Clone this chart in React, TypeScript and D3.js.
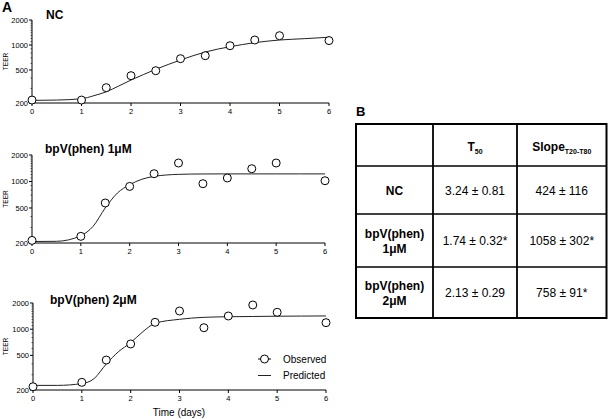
import React from "react";
import * as d3 from "d3";

const days = [0, 1, 1.5, 2, 2.5, 3, 3.5, 4, 4.5, 5, 6];
const obsNC = [217, 217, 306, 427, 490, 684, 743, 980, 1148, 1294, 1130];
const obs1uM = [214, 238, 570, 879, 1226, 1622, 944, 1096, 1397, 1622, 1020];
const obs2uM = [218, 245, 442, 676, 1200, 1618, 1040, 1418, 1897, 1564, 1188];

const predDays = [0, 0.5, 1, 1.25, 1.5, 1.75, 2, 2.25, 2.5, 3, 3.5, 4, 4.5, 5, 5.5, 6];
const predNC = [215, 217, 225, 245, 273, 320, 378, 440, 509, 659, 822, 953, 1066, 1148, 1191, 1240];
const pred1uM = [208, 209, 242, 309, 500, 740, 919, 1060, 1143, 1205, 1218, 1220, 1220, 1220, 1220, 1220];
const pred2uM = [226, 226, 237, 270, 398, 551, 700, 936, 1169, 1299, 1369, 1390, 1400, 1410, 1415, 1420];

const panelTitles = ["NC", "bpV(phen) 1μM", "bpV(phen) 2μM"];
const yTicks = [200, 500, 1000, 2000];
const xTicks = [0, 1, 2, 3, 4, 5, 6];
const minorTicks = [300, 400, 600, 700, 800, 900, 1100, 1200, 1300, 1400, 1500, 1600, 1700, 1800, 1900];

const tableHeader = ["", "T", "Slope"];
const tableHeaderSub = ["", "50", "T20-T80"];
const tableRowLabels = [["NC"], ["bpV(phen)", "1μM"], ["bpV(phen)", "2μM"]];
const tableT50 = ["3.24 ± 0.81", "1.74 ± 0.32*", "2.13 ± 0.29"];
const tableSlope = ["424 ± 116", "1058 ± 302*", "758 ± 91*"];

const FONT = "'Liberation Sans', Arial, Helvetica, sans-serif";

const layout = [
  { x0: 32, x1: 329, yTop: 20, yBot: 103, tx: 46, ty: 19 },
  { x0: 32, x1: 325, yTop: 155, yBot: 243, tx: 45, ty: 153 },
  { x0: 33, x1: 326, yTop: 303, yBot: 390, tx: 50, ty: 304 },
];

const observed = [obsNC, obs1uM, obs2uM];
const predicted = [predNC, pred1uM, pred2uM];

function Panel({ i }: { i: number }) {
  const L = layout[i];
  const x = d3.scaleLinear().domain([0, 6]).range([L.x0, L.x1]);
  const y = d3.scaleLog().domain([200, 2000]).range([L.yBot, L.yTop]);
  const line = d3
    .line<number>()
    .x((_, k) => x(predDays[k]))
    .y((v) => y(v))
    .curve(d3.curveMonotoneX);
  return (
    <g>
      <text x={L.tx} y={L.ty} fontFamily={FONT} fontWeight="bold" fontSize={12}>
        {panelTitles[i]}
      </text>
      <text
        transform={`translate(8,${(L.yTop + L.yBot) / 2}) rotate(-90)`}
        textAnchor="middle"
        fontFamily={FONT}
        fontSize={6.5}
      >
        TEER
      </text>
      {/* y axis */}
      <line x1={L.x0} x2={L.x0} y1={L.yTop} y2={L.yBot} stroke="#000" strokeWidth={1} />
      {minorTicks.map((t) => (
        <line key={t} x1={L.x0 - 1.5} x2={L.x0} y1={y(t)} y2={y(t)} stroke="#000" strokeWidth={0.6} />
      ))}
      {yTicks.map((t) => (
        <g key={t}>
          <line x1={L.x0 - 3} x2={L.x0} y1={y(t)} y2={y(t)} stroke="#000" strokeWidth={1} />
          <text x={L.x0 - 4} y={y(t)} dy="0.35em" textAnchor="end" fontFamily={FONT} fontSize={7.5}>
            {t}
          </text>
        </g>
      ))}
      {/* x axis */}
      <line x1={L.x0} x2={L.x1} y1={L.yBot} y2={L.yBot} stroke="#000" strokeWidth={1} />
      {xTicks.map((t) => (
        <g key={t}>
          <line x1={x(t)} x2={x(t)} y1={L.yBot} y2={L.yBot + 3} stroke="#000" strokeWidth={1} />
          <text x={x(t)} y={L.yBot + 11} textAnchor="middle" fontFamily={FONT} fontSize={7.5}>
            {t}
          </text>
        </g>
      ))}
      <path d={line(predicted[i]) || ""} fill="none" stroke="#222" strokeWidth={1} />
      {observed[i].map((v, k) => (
        <circle key={k} cx={x(days[k])} cy={y(v)} r={4} fill="#fff" stroke="#000" strokeWidth={1} />
      ))}
    </g>
  );
}

function Table() {
  const left = 356;
  const right = 606.5;
  const colX = [left, 433, 517, right];
  const rowY = [124, 166, 214, 267, 318];
  const cx = (c: number) => (colX[c] + colX[c + 1]) / 2;
  const cy = (r: number) => (rowY[r] + rowY[r + 1]) / 2;
  return (
    <g fontFamily={FONT}>
      <text x={356} y={116} fontWeight="bold" fontSize={13}>
        B
      </text>
      {rowY.slice(1, -1).map((ry) => (
        <line key={ry} x1={left} x2={right} y1={ry} y2={ry} stroke="#000" strokeWidth={1.5} />
      ))}
      {colX.slice(1, -1).map((cx0) => (
        <line key={cx0} x1={cx0} x2={cx0} y1={rowY[0]} y2={rowY[4]} stroke="#000" strokeWidth={1.8} />
      ))}
      <rect x={left} y={rowY[0]} width={right - left} height={rowY[4] - rowY[0]} fill="none" stroke="#000" strokeWidth={2} />
      {[1, 2].map((c) => (
        <text key={c} x={cx(c)} y={cy(0) + 6} textAnchor="middle" fontWeight="bold" fontSize={12}>
          {tableHeader[c]}
          <tspan fontSize={7} dy={2.5}>
            {tableHeaderSub[c]}
          </tspan>
        </text>
      ))}
      {tableRowLabels.map((lines, r) => (
        <text key={r} textAnchor="middle" fontWeight="bold" fontSize={12}>
          {lines.map((s, j) => (
            <tspan key={j} x={cx(0)} y={cy(r + 1) + 4.5 + (j - (lines.length - 1) / 2) * 15}>
              {s}
            </tspan>
          ))}
        </text>
      ))}
      {tableT50.map((s, r) => (
        <text key={"t" + r} x={cx(1)} y={cy(r + 1) + 4.5} textAnchor="middle" fontSize={12}>
          {s}
        </text>
      ))}
      {tableSlope.map((s, r) => (
        <text key={"s" + r} x={cx(2)} y={cy(r + 1) + 4.5} textAnchor="middle" fontSize={12}>
          {s}
        </text>
      ))}
    </g>
  );
}

export default function App() {
  return (
    <svg
      width={608}
      height={419}
      style={{ position: "absolute", left: 0, top: 0, background: "#fff" }}
    >
      <rect width={608} height={419} fill="#fff" />
      <text x={2} y={12} fontFamily={FONT} fontWeight="bold" fontSize={14}>
        A
      </text>
      {[0, 1, 2].map((i) => (
        <Panel key={i} i={i} />
      ))}
      {/* legend */}
      <g fontFamily={FONT} fontSize={10}>
        <line x1={258} x2={271} y1={359} y2={359} stroke="#000" strokeWidth={1} />
        <circle cx={264.5} cy={359} r={4} fill="#fff" stroke="#000" strokeWidth={1} />
        <text x={283} y={362.5}>Observed</text>
        <line x1={258} x2={271} y1={375.5} y2={375.5} stroke="#222" strokeWidth={1} />
        <text x={283} y={379}>Predicted</text>
      </g>
      <text x={179} y={416} textAnchor="middle" fontFamily={FONT} fontSize={10}>
        Time (days)
      </text>
      <Table />
    </svg>
  );
}
